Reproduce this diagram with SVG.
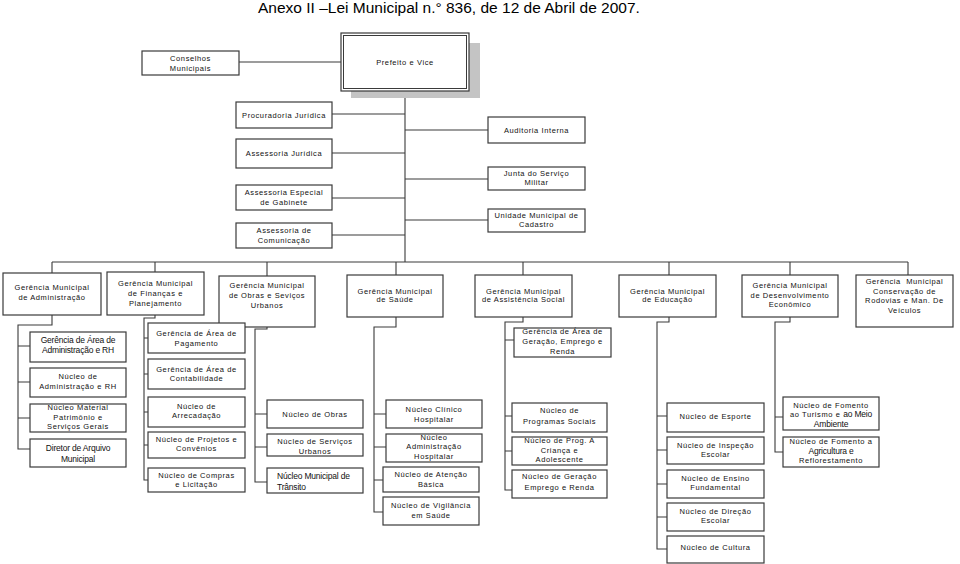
<svg xmlns="http://www.w3.org/2000/svg" width="960" height="564" viewBox="0 0 960 564">
<style>
.b{fill:#fff;stroke:#3a3a3a;stroke-width:1.2}
.c{fill:none;stroke:#3a3a3a;stroke-width:1.1}
text{font-family:"Liberation Sans",Arial,sans-serif;fill:#111}
.t{font-size:7.5px;letter-spacing:0.6px;text-anchor:middle}
.n{font-size:8.5px;letter-spacing:-0.2px;text-anchor:middle}
.title{font-size:15.5px;fill:#000}
</style>
<rect width="960" height="564" fill="#fff"/>
<text class="title" x="258" y="13">Anexo II –Lei Municipal n.° 836, de 12 de Abril de 2007.</text>

<g id="connectors">
<path class="c" d="M239,62H341"/>
<path class="c" d="M405,91V262"/>
<path class="c" d="M332,114H405M332,153H405M332,198H405M332,235H405"/>
<path class="c" d="M405,130H488M405,179H488M405,220H488"/>
<path class="c" d="M52,262H908"/>
<path class="c" d="M52,262V273M155,262V272M267,262V276M396,262V275M523,262V275M669,262V275M790,262V275M908,262V275"/>
<path class="c" d="M52,315V325H18V449H30M18,346H30M18,382H30M18,418H30"/>
<path class="c" d="M155,315V318H144V480H148M144,338H148M144,374H148M144,412H148M144,445H148"/>
<path class="c" d="M267,327V329H255V482H267M255,414H267M255,447H267"/>
<path class="c" d="M396,317V327H374V512H383M374,414H386M374,447H386M374,480H383"/>
<path class="c" d="M523,317V322H505V490H512M505,340H514M505,416H512M505,451H512"/>
<path class="c" d="M669,317V322H657V549H667M657,416H667M657,450H667M657,484H667M657,517H667"/>
<path class="c" d="M790,317V322H775V452H783M775,417H783"/>
</g>

<g id="conselhos"><rect class="b" x="142" y="51" width="97" height="24"/><text class="t" x="190.5" y="61">Conselhos</text><text class="t" x="190.5" y="71">Municipais</text></g>
<g id="prefeito"><rect x="351" y="43" width="129" height="55" fill="#c4c4c4"/><rect class="b" x="341" y="33" width="128" height="58" stroke-width="1.6"/><rect x="343.5" y="35.5" width="123" height="53" fill="none" stroke="#3a3a3a" stroke-width="1"/><text class="t" x="405" y="64.7">Prefeito e Vice</text></g>

<g id="procuradoria"><rect class="b" x="236" y="102" width="96" height="26"/><text class="t" x="284" y="117.7">Procuradoria Jurídica</text></g>
<g id="assessoria-juridica"><rect class="b" x="236" y="139" width="96" height="29"/><text class="t" x="284" y="155.7">Assessoria Jurídica</text></g>
<g id="assessoria-especial"><rect class="b" x="236" y="185" width="96" height="25"/><text class="t" x="284" y="195">Assessoria Especial</text><text class="t" x="284" y="205">de Gabinete</text></g>
<g id="assessoria-comunicacao"><rect class="b" x="236" y="223" width="96" height="25"/><text class="t" x="284" y="232.7">Assessoria de</text><text class="t" x="284" y="242.7">Comunicação</text></g>

<g id="auditoria"><rect class="b" x="488" y="117" width="97" height="26"/><text class="t" x="536.5" y="132.7">Auditoria Interna</text></g>
<g id="junta"><rect class="b" x="488" y="167" width="97" height="23"/><text class="t" x="536.5" y="176">Junta do Serviço</text><text class="t" x="536.5" y="185">Militar</text></g>
<g id="cadastro"><rect class="b" x="488" y="209" width="97" height="23"/><text class="t" x="536.5" y="217.7">Unidade Municipal de</text><text class="t" x="536.5" y="227">Cadastro</text></g>

<g id="g-adm"><rect class="b" x="3" y="273" width="98" height="42"/><text class="t" x="52" y="290.4">Gerência Municipal</text><text class="t" x="52" y="300.4">de Administração</text></g>
<g id="g-fin"><rect class="b" x="107" y="272" width="97" height="43"/><text class="t" x="155.5" y="286">Gerência Municipal</text><text class="t" x="155.5" y="296">de Finanças e</text><text class="t" x="155.5" y="305.5">Planejamento</text></g>
<g id="g-obras"><rect class="b" x="219" y="276" width="96" height="51"/><text class="t" x="267" y="288.4">Gerência Municipal</text><text class="t" x="267" y="298.4">de Obras e Seviços</text><text class="t" x="267" y="308.4">Urbanos</text></g>
<g id="g-saude"><rect class="b" x="347" y="275" width="96" height="42"/><text class="t" x="395" y="293.7">Gerência Municipal</text><text class="t" x="395" y="302.2">de Saúde</text></g>
<g id="g-asst"><rect class="b" x="475" y="275" width="97" height="42"/><text class="t" x="523.5" y="293.7">Gerência Municipal</text><text class="t" x="523.5" y="302.4">de Assistência Social</text></g>
<g id="g-edu"><rect class="b" x="619" y="275" width="97" height="42"/><text class="t" x="667.5" y="293.7">Gerência Municipal</text><text class="t" x="667.5" y="302.2">de Educação</text></g>
<g id="g-des"><rect class="b" x="742" y="275" width="96" height="42"/><text class="t" x="790" y="288.4">Gerência Municipal</text><text class="t" x="790" y="297.7">de Desenvolvimento</text><text class="t" x="790" y="307">Econômico</text></g>
<g id="g-cons"><rect class="b" x="856" y="275" width="97" height="52"/><text class="t" x="904.5" y="283.7" xml:space="preserve">Gerência  Municipal</text><text class="t" x="904.5" y="293.7">Conservação de</text><text class="t" x="904.5" y="303.4">Rodovias e Man. De</text><text class="t" x="904.5" y="313.4">Veículos</text></g>

<g id="ga-adm-rh"><rect class="b" x="30" y="332" width="96" height="30"/><text class="n" x="78" y="343">Gerência de Área de</text><text class="n" x="78" y="353">Administração e RH</text></g>
<g id="n-adm-rh"><rect class="b" x="30" y="368" width="96" height="29"/><text class="t" x="78" y="379.4">Núcleo de</text><text class="t" x="78" y="389.4">Administração e RH</text></g>
<g id="n-material"><rect class="b" x="30" y="404" width="96" height="28"/><text class="t" x="78" y="410.4">Núcleo Material</text><text class="t" x="78" y="420.4">Patrimônio e</text><text class="t" x="78" y="429.4">Serviços Gerais</text></g>
<g id="diretor-arquivo"><rect class="b" x="30" y="439" width="96" height="28"/><text class="n" x="78" y="451">Diretor de Arquivo</text><text class="n" x="78" y="461.5">Municipal</text></g>

<g id="ga-pagamento"><rect class="b" x="148" y="323" width="97" height="30"/><text class="t" x="196.5" y="336">Gerência de Área de</text><text class="t" x="196.5" y="346">Pagamento</text></g>
<g id="ga-contabilidade"><rect class="b" x="148" y="359" width="97" height="30"/><text class="t" x="196.5" y="372">Gerência de Área de</text><text class="t" x="196.5" y="381">Contabilidade</text></g>
<g id="n-arrecadacao"><rect class="b" x="148" y="397" width="97" height="30"/><text class="t" x="196.5" y="408.7">Núcleo de</text><text class="t" x="196.5" y="418.4">Arrecadação</text></g>
<g id="n-projetos"><rect class="b" x="148" y="432" width="97" height="26"/><text class="t" x="196.5" y="442">Núcleo de Projetos e</text><text class="t" x="196.5" y="451">Convênios</text></g>
<g id="n-compras"><rect class="b" x="148" y="468" width="97" height="24"/><text class="t" x="196.5" y="477.7">Núcleo de Compras</text><text class="t" x="196.5" y="487">e Licitação</text></g>

<g id="n-obras"><rect class="b" x="267" y="400" width="96" height="28"/><text class="t" x="315" y="416.7">Núcleo de Obras</text></g>
<g id="n-servicos-urbanos"><rect class="b" x="267" y="434" width="96" height="22"/><text class="t" x="315" y="444.4">Núcleo de Serviços</text><text class="t" x="315" y="453.7">Urbanos</text></g>
<g id="n-transito"><rect class="b" x="267" y="468" width="96" height="25"/><text class="n" x="277" y="479" style="text-anchor:start">Núcleo Municipal de</text><text class="n" x="277" y="489.5" style="text-anchor:start">Trânsito</text></g>

<g id="n-clinico"><rect class="b" x="386" y="400" width="96" height="28"/><text class="t" x="434" y="412">Núcleo Clínico</text><text class="t" x="434" y="421.7">Hospitalar</text></g>
<g id="n-adm-hosp"><rect class="b" x="386" y="434" width="96" height="28"/><text class="t" x="434" y="440">Núcleo</text><text class="t" x="434" y="449.4">Administração</text><text class="t" x="434" y="458.7">Hospitalar</text></g>
<g id="n-atencao"><rect class="b" x="383" y="467" width="96" height="25"/><text class="t" x="431" y="477">Núcleo de Atenção</text><text class="t" x="431" y="486.7">Básica</text></g>
<g id="n-vigilancia"><rect class="b" x="383" y="497" width="96" height="28"/><text class="t" x="431" y="508.4">Núcleo de Vigilância</text><text class="t" x="431" y="517.7">em Saúde</text></g>

<g id="ga-geracao"><rect class="b" x="514" y="328" width="97" height="29"/><text class="t" x="562.5" y="334.4">Gerência de Área de</text><text class="t" x="562.5" y="344.4">Geração, Emprego e</text><text class="t" x="562.5" y="353.7">Renda</text></g>
<g id="n-programas"><rect class="b" x="512" y="403" width="95" height="29"/><text class="t" x="559.5" y="413.4">Núcleo de</text><text class="t" x="559.5" y="423.7">Programas Sociais</text></g>
<g id="n-crianca"><rect class="b" x="512" y="437" width="95" height="28"/><text class="t" x="559.5" y="442.7">Núcleo de Prog. A</text><text class="t" x="559.5" y="452.7">Criança e</text><text class="t" x="559.5" y="462">Adolescente</text></g>
<g id="n-geracao"><rect class="b" x="512" y="470" width="95" height="28"/><text class="t" x="559.5" y="479.4">Núcleo de Geração</text><text class="t" x="559.5" y="490.4">Emprego e Renda</text></g>

<g id="n-esporte"><rect class="b" x="667" y="403" width="97" height="29"/><text class="t" x="715.5" y="419">Núcleo de Esporte</text></g>
<g id="n-inspecao"><rect class="b" x="667" y="437" width="97" height="27"/><text class="t" x="715.5" y="447.7">Núcleo de Inspeção</text><text class="t" x="715.5" y="457">Escolar</text></g>
<g id="n-ensino"><rect class="b" x="667" y="470" width="97" height="28"/><text class="t" x="715.5" y="481">Núcleo de Ensino</text><text class="t" x="715.5" y="490.4">Fundamental</text></g>
<g id="n-direcao"><rect class="b" x="667" y="503" width="97" height="28"/><text class="t" x="715.5" y="514.4">Núcleo de Direção</text><text class="t" x="715.5" y="523.4">Escolar</text></g>
<g id="n-cultura"><rect class="b" x="667" y="536" width="97" height="27"/><text class="t" x="715.5" y="550.4">Núcleo de Cultura</text></g>

<g id="n-turismo"><rect class="b" x="783" y="397" width="96" height="33"/><text class="t" x="831" y="407.7">Núcleo de Fomento</text><text class="t" x="831" y="417"><tspan>ao Turismo e </tspan><tspan style="font-size:8.5px;letter-spacing:-0.2px">ao Meio</tspan></text><text class="n" x="831" y="427">Ambiente</text></g>
<g id="n-agricultura"><rect class="b" x="783" y="437" width="96" height="30"/><text class="t" x="831" y="444.4">Núcleo de Fomento a</text><text class="n" x="831" y="453.7">Agricultura e</text><text class="t" x="831" y="463.4">Reflorestamento</text></g>
</svg>
